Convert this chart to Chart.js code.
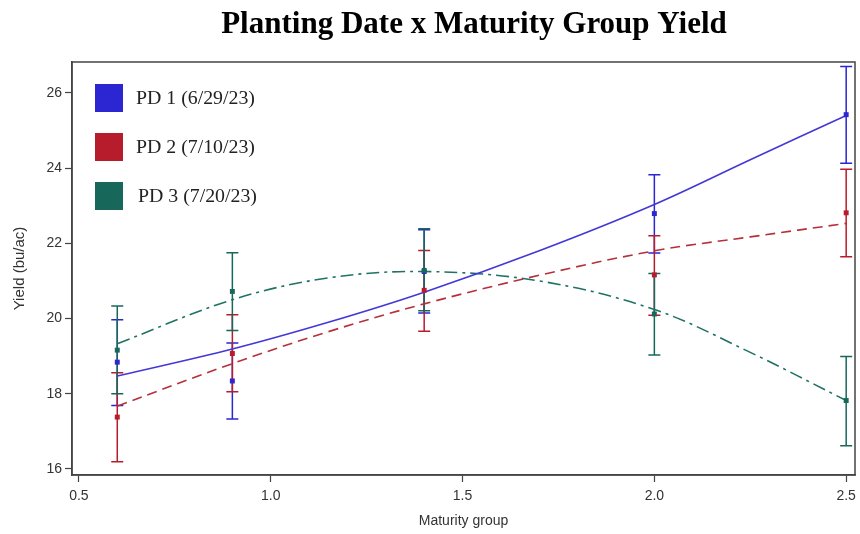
<!DOCTYPE html>
<html>
<head>
<meta charset="utf-8">
<script src="https://cdn.jsdelivr.net/npm/chart.js@4.4.1/dist/chart.umd.min.js"></script>
<style>
  html, body { margin: 0; padding: 0; background: #fff; }
  #wrap { width: 860px; height: 534px; position: relative; }
</style>
</head>
<body>
<div id="wrap"><canvas id="chart" width="860" height="534"></canvas></div>
<script>
// --- data ---
const chartTitle = 'Planting Date x Maturity Group Yield';
const seriesNames = ['PD 1 (6/29/23)', 'PD 2 (7/10/23)', 'PD 3 (7/20/23)'];
const seriesColors = ['#2b25d2', '#b71c2c', '#17685b'];
const lineColors = ['#4338d6', '#b5303c', '#1f7264'];

const maturity = [0.6, 0.9, 1.4, 2.0, 2.5];

const pd1Mean = [18.84, 18.34, 21.25, 22.79, 25.42];
const pd1Low  = [17.69, 17.33, 20.15, 21.74, 24.13];
const pd1High = [19.97, 19.35, 22.36, 23.82, 26.70];

const pd2Mean = [17.38, 19.07, 20.75, 21.16, 22.81];
const pd2Low  = [16.19, 18.05, 19.66, 20.09, 21.64];
const pd2High = [18.56, 20.10, 21.81, 22.20, 23.97];

const pd3Mean = [19.16, 20.72, 21.28, 20.12, 17.82];
const pd3Low  = [18.00, 19.68, 20.21, 19.03, 16.62];
const pd3High = [20.33, 21.75, 22.39, 21.20, 18.99];

// fitted curves
const fitX   = [0.6, 0.9, 1.15, 1.4, 1.7, 2.0, 2.25, 2.5];
const pd1Fit = [18.47, 19.19, 19.90, 20.70, 21.80, 23.03, 24.22, 25.40];
const pd2Fit = [17.67, 18.80, 19.65, 20.39, 21.15, 21.80, 22.17, 22.53];
const pd3Fit = [19.33, 20.50, 21.08, 21.25, 21.00, 20.24, 19.10, 17.82];

const xTicks = [0.5, 1.0, 1.5, 2.0, 2.5];
const yTicks = [16, 18, 20, 22, 24, 26];

const means = [pd1Mean, pd2Mean, pd3Mean];
const lows = [pd1Low, pd2Low, pd3Low];
const highs = [pd1High, pd2High, pd3High];
const fits = [pd1Fit, pd2Fit, pd3Fit];
const dashes = [[], [10, 6], [13, 5, 3, 5]];

const axisFont = "'Liberation Sans Narrow', 'Liberation Sans', Arial, sans-serif";
const serifFont = "'Liberation Serif', 'DejaVu Serif', serif";

const datasets = [];
means.forEach((m, s) => {
    datasets.push({
        label: seriesNames[s],
        data: maturity.map((x, i) => ({ x: x, y: m[i] })),
        showLine: false,
        pointStyle: 'rect',
        pointRadius: 3.5,
        backgroundColor: seriesColors[s],
        borderColor: seriesColors[s],
        borderWidth: 0,
        order: 2 - s
    });
});
fits.forEach((f, s) => {
    datasets.push({
        label: seriesNames[s] + ' fit',
        data: fitX.map((x, i) => ({ x: x, y: f[i] })),
        showLine: true,
        pointRadius: 0,
        borderColor: lineColors[s],
        borderWidth: 1.6,
        borderDash: dashes[s],
        tension: 0.35,
        fill: false,
        order: 10
    });
});

const errorBars = {
    id: 'errorBars',
    beforeDatasetsDraw(chart) {
        const { ctx, scales: { x, y } } = chart;
        ctx.save();
        lows.forEach((lo, s) => {
            ctx.strokeStyle = seriesColors[s];
            ctx.lineWidth = 1.5;
            maturity.forEach((m, i) => {
                const px = x.getPixelForValue(m);
                const y0 = y.getPixelForValue(lo[i]);
                const y1 = y.getPixelForValue(highs[s][i]);
                ctx.beginPath();
                ctx.moveTo(px, y0); ctx.lineTo(px, y1);
                ctx.moveTo(px - 6, y0); ctx.lineTo(px + 6, y0);
                ctx.moveTo(px - 6, y1); ctx.lineTo(px + 6, y1);
                ctx.stroke();
            });
        });
        ctx.restore();
    }
};

function fitFont(ctx, text, weight, family, width) {
    ctx.font = weight + ' 20px ' + family;
    const w = ctx.measureText(text).width;
    return 20 * width / w;
}

const decorations = {
    id: 'decorations',
    afterDraw(chart) {
        const { ctx, chartArea: a } = chart;
        ctx.save();
        // frame
        ctx.strokeStyle = '#444';
        ctx.lineWidth = 1.5;
        ctx.strokeRect(a.left, a.top, a.right - a.left, a.bottom - a.top);

        // title
        const tSize = fitFont(ctx, chartTitle, 'bold', serifFont, 506);
        ctx.font = 'bold ' + tSize + 'px ' + serifFont;
        ctx.fillStyle = '#000';
        ctx.textAlign = 'center';
        ctx.textBaseline = 'alphabetic';
        ctx.fillText(chartTitle, 474, 33);

        // legend
        const lSize = fitFont(ctx, seriesNames[0], 'normal', serifFont, 119);
        ctx.font = lSize + 'px ' + serifFont;
        ctx.textAlign = 'left';
        ctx.textBaseline = 'middle';
        seriesNames.forEach((name, s) => {
            const cy = 98 + s * 49;
            ctx.fillStyle = seriesColors[s];
            ctx.fillRect(95, cy - 14, 28, 28);
            ctx.fillStyle = '#222';
            ctx.fillText(name, s === 2 ? 138 : 136, cy + 1);
        });
        ctx.restore();
    }
};

new Chart(document.getElementById('chart'), {
    type: 'scatter',
    data: { datasets: datasets },
    options: {
        responsive: false,
        animation: false,
        layout: { padding: { top: 62, right: 5, left: 0, bottom: 0 } },
        plugins: {
            legend: { display: false },
            tooltip: { enabled: false },
            title: { display: false }
        },
        scales: {
            x: {
                type: 'linear',
                min: 0.482,
                max: 2.523,
                afterFit: s => { s.height = 59; s.paddingLeft = 0; s.paddingRight = 0; },
                afterBuildTicks: s => { s.ticks = xTicks.map(v => ({ value: v })); },
                ticks: {
                    callback: v => v.toFixed(1),
                    color: '#333',
                    font: { family: axisFont, size: 14 },
                    padding: 6,
                    maxRotation: 0
                },
                grid: { drawOnChartArea: false, drawTicks: true, tickLength: 7, color: '#444', tickWidth: 1.2 },
                border: { display: true, color: '#444', width: 1.5 },
                title: {
                    display: true,
                    text: 'Maturity group',
                    color: '#333',
                    font: { family: axisFont, size: 14 },
                    padding: { top: 4, bottom: 4 }
                }
            },
            y: {
                type: 'linear',
                min: 15.84,
                max: 26.82,
                afterFit: s => { s.width = 72; s.paddingTop = 0; s.paddingBottom = 0; },
                afterBuildTicks: s => { s.ticks = yTicks.map(v => ({ value: v })); },
                ticks: {
                    color: '#333',
                    font: { family: axisFont, size: 14 },
                    padding: 3
                },
                grid: { drawOnChartArea: false, drawTicks: true, tickLength: 7, color: '#444', tickWidth: 1.2 },
                border: { display: true, color: '#444', width: 1.5 },
                title: {
                    display: true,
                    text: 'Yield (bu/ac)',
                    color: '#333',
                    font: { family: axisFont, size: 15 },
                    padding: { top: 11, bottom: 4 }
                }
            }
        }
    },
    plugins: [errorBars, decorations]
});
</script>
</body>
</html>
